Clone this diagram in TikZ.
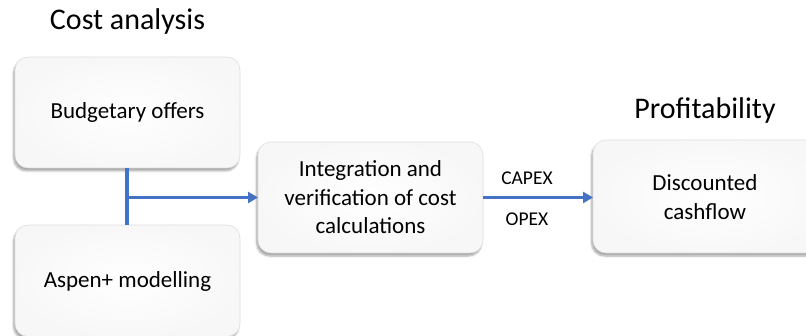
\documentclass[tikz,border=0pt]{standalone}
\usepackage{fontspec}
\setmainfont{Carlito}
\usetikzlibrary{shadows.blur,arrows.meta}
\definecolor{arrowblue}{HTML}{4472C4}
\begin{document}
\begin{tikzpicture}[x=1pt,y=-1pt,
  box/.style={draw=gray!25, line width=0.6pt, rounded corners=13pt, inner color=white, outer color=gray!6, blur shadow={shadow xshift=-1.5pt, shadow yshift=-3pt, shadow blur steps=6, shadow opacity=35}},
  boxtext/.style={font=\fontsize{23}{28.5}\selectfont, align=center, text=black},
  conn/.style={arrowblue, line width=3.5pt},
  arr/.style={conn, -{Triangle[length=10pt,width=11pt]}},
  title/.style={font=\fontsize{30}{36}\selectfont, text=black},
  lab/.style={font=\fontsize{19.5}{23}\selectfont, text=black}]
\useasboundingbox (0,0) rectangle (806,336);
\begin{scope}
\clip (0,0) rectangle (806,336);
\draw[box] (15,57) rectangle (240,168);
\draw[box] (15,225) rectangle (240,336.5);
\draw[box] (258,142) rectangle (483,253);
\draw[box] (593,140) rectangle (830,253);
\end{scope}
\node[boxtext] (bud) at (127.5,112.5) {Budgetary offers};
\node[boxtext] (asp) at (127.5,281) {Aspen+ modelling};
\node[boxtext] (int) at (370.5,197.5) {Integration and\\verification of cost\\calculations};
\node[boxtext] (dcf) at (705,197) {Discounted\\cashflow};
\coordinate (budB) at (127,168);
\coordinate (aspT) at (127,225);
\coordinate (j) at (127,197.5);
\coordinate (intL) at (258,197.5);
\coordinate (intR) at (483,197.5);
\coordinate (dcfL) at (593,197.5);
\node[title] (t1) at (127.5,22) {Cost analysis};
\node[title] (t2) at (705,111) {Profitability};
\draw[conn] (budB) -- (aspT);
\draw[arr] (j) -- (intL);
\draw[arr] (intR) -- (dcfL);
\node[lab] (capex) at (527,178) {CAPEX};
\node[lab] (opex) at (527,219) {OPEX};
\end{tikzpicture}
\end{document}
